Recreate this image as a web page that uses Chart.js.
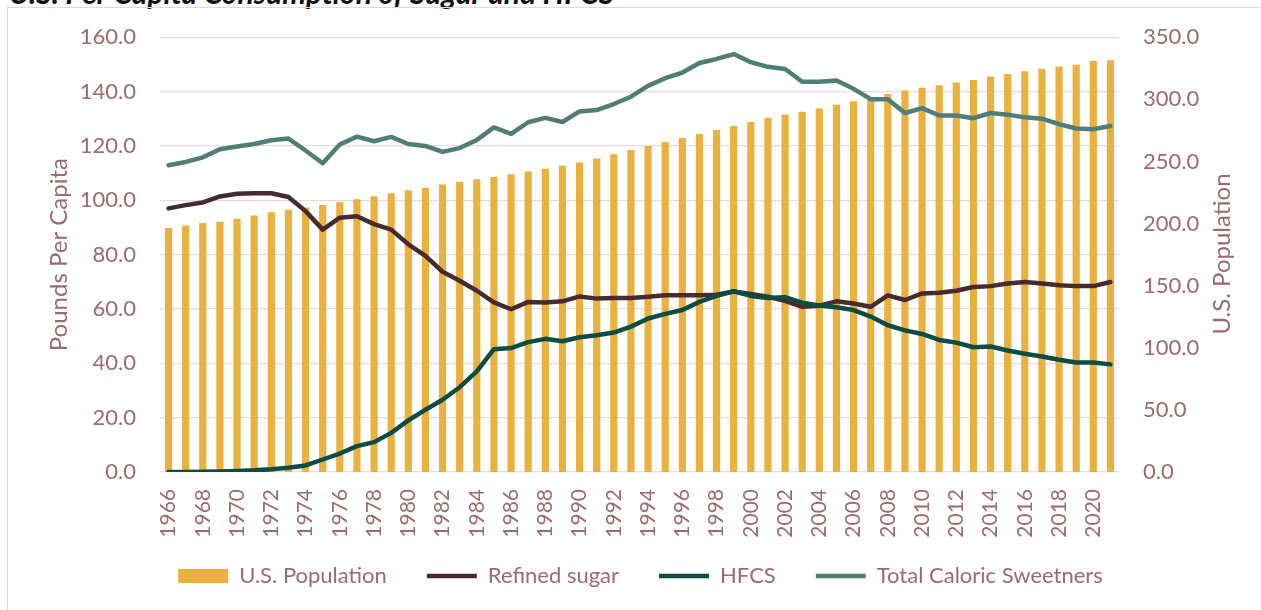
<!DOCTYPE html>
<html>
<head>
<meta charset="utf-8">
<script src="https://cdn.jsdelivr.net/npm/chart.js@4.4.1/dist/chart.umd.min.js"></script>
<style>
  html, body { margin: 0; padding: 0; background: #ffffff; }
  body { width: 1261px; height: 610px; position: relative; overflow: hidden; }
  #title { position: absolute; left: 9px; top: -23px; line-height: 30px; font-family: Lato, "Liberation Sans", sans-serif;
           font-weight: bold; font-style: italic; font-size: 30px; color: #111; white-space: nowrap; }
  #frame { position: absolute; left: 7px; top: 7px; width: 1300px; height: 700px;
           border: 1px solid #E6D6D9; box-sizing: border-box; }
  #wrap { position: absolute; left: 0; top: 0; width: 1261px; height: 610px; }
</style>
</head>
<body>
<div id="title">U.S. Per Capita Consumption of Sugar and HFCS</div>
<div id="frame"></div>
<div id="wrap"><canvas id="c" width="1261" height="610"></canvas></div>
<script>
const years = [];
for (let y = 1966; y <= 2021; y++) years.push(String(y));

const population = [196.4, 198.4, 200.5, 201.5, 203.8, 206.5, 209.0, 211.2, 213.0, 215.0,
  217.2, 219.6, 221.9, 224.3, 226.7, 228.9, 231.5, 233.6, 235.6, 237.5,
  239.6, 241.8, 244.2, 246.5, 249.2, 252.3, 255.8, 259.3, 262.5, 265.7,
  268.9, 272.1, 275.3, 278.5, 281.7, 284.9, 287.8, 290.0, 292.7, 295.7,
  298.4, 300.9, 304.2, 307.1, 309.3, 311.4, 313.6, 315.6, 318.4, 320.4,
  322.5, 324.6, 326.4, 327.9, 330.9, 331.5];

const refinedSugar = [97.0, 98.2, 99.2, 101.4, 102.4, 102.6, 102.6, 101.2, 96.0, 89.2,
  93.6, 94.1, 91.2, 89.2, 83.8, 79.5, 73.7, 70.4, 66.7, 62.4,
  59.9, 62.6, 62.4, 62.8, 64.6, 63.8, 64.0, 64.0, 64.5, 65.0,
  65.0, 65.0, 65.2, 66.4, 65.5, 64.5, 63.0, 60.8, 61.2, 62.8,
  62.0, 60.8, 65.0, 63.3, 65.7, 66.0, 66.7, 68.1, 68.4, 69.4,
  69.9, 69.4, 68.7, 68.4, 68.4, 69.9];

const hfcs = [0.0, 0.0, 0.1, 0.2, 0.4, 0.6, 1.0, 1.6, 2.4, 4.6,
  6.8, 9.5, 11.0, 14.4, 19.0, 22.9, 26.6, 31.2, 37.0, 45.2,
  45.6, 47.8, 49.0, 48.1, 49.6, 50.3, 51.3, 53.5, 56.5, 58.2,
  59.6, 62.6, 64.8, 66.5, 64.8, 64.0, 64.3, 62.3, 61.3, 60.6,
  59.6, 57.2, 54.0, 52.1, 50.8, 48.6, 47.6, 45.9, 46.2, 44.7,
  43.5, 42.5, 41.3, 40.3, 40.3, 39.6];

const totalCaloric = [112.9, 114.1, 115.8, 118.8, 119.8, 120.7, 122.1, 122.7, 118.3, 113.6,
  120.5, 123.4, 121.7, 123.3, 120.7, 120.0, 117.8, 119.2, 122.2, 126.8,
  124.4, 128.7, 130.3, 128.8, 132.7, 133.2, 135.4, 138.1, 142.1, 144.9,
  147.0, 150.5, 152.0, 153.8, 150.8, 149.1, 148.3, 143.6, 143.6, 144.1,
  141.0, 137.2, 137.2, 132.1, 133.9, 131.2, 131.2, 130.2, 132.1, 131.5,
  130.5, 130.0, 128.0, 126.4, 126.1, 127.3];

const leftTicks = [0, 20, 40, 60, 80, 100, 120, 140, 160];
const rightTicks = [0, 50, 100, 150, 200, 250, 300, 350];

const TXT = '#9C6A6F';
const FONT = 'Lato, "Open Sans", sans-serif';

const PAD = { left: 40, right: 20, top: 34, bottom: 0 };
const AREA = { left: 160, right: 1119, bottom: 472 };
const X_H = 66;
const LEGEND_H = 610 - AREA.bottom - X_H;
const LEGEND_SHIFT = 13;

const layoutPlugin = {
  id: 'fixLegend',
  beforeLayout(chart) {
    const lg = chart.legend;
    if (lg && !lg._fixed) {
      const f = lg.fit;
      lg.fit = function () { f.call(this); this.height = LEGEND_H; };
      lg._fixed = true;
    }
  },
  afterLayout(chart) {
    const lg = chart.legend;
    if (lg) { lg.top -= LEGEND_SHIFT; lg.bottom -= LEGEND_SHIFT; }
  }
};

const rightTitlePlugin = {
  id: 'rightTitle',
  afterDraw(chart) {
    const ctx = chart.ctx;
    ctx.save();
    ctx.font = '24px ' + FONT;
    ctx.fillStyle = TXT;
    ctx.textAlign = 'center';
    ctx.textBaseline = 'middle';
    ctx.translate(1222, 254);
    ctx.rotate(-Math.PI / 2);
    ctx.fillText('U.S. Population', 0, 0);
    ctx.restore();
  }
};

new Chart(document.getElementById('c'), {
  type: 'bar',
  data: {
    labels: years,
    datasets: [
      { type: 'bar', label: 'U.S. Population', data: population, yAxisID: 'yR',
        backgroundColor: '#EBB13E', borderWidth: 0, order: 5, pointStyle: 'rect',
        categoryPercentage: 1.0, barPercentage: 0.42 },
      { type: 'line', label: 'Refined sugar', data: refinedSugar, yAxisID: 'yL',
        borderColor: '#472B2F', backgroundColor: '#472B2F', borderWidth: 4.5, pointRadius: 0,
        tension: 0, order: 1, pointStyle: 'line', borderCapStyle: 'round', borderJoinStyle: 'round' },
      { type: 'line', label: 'HFCS', data: hfcs, yAxisID: 'yL',
        borderColor: '#0D4B45', backgroundColor: '#0D4B45', borderWidth: 4.5, pointRadius: 0,
        tension: 0, order: 0, pointStyle: 'line', borderCapStyle: 'round', borderJoinStyle: 'round' },
      { type: 'line', label: 'Total Caloric Sweetners', data: totalCaloric, yAxisID: 'yL',
        borderColor: '#4F7E79', backgroundColor: '#4F7E79', borderWidth: 4.5, pointRadius: 0,
        tension: 0, order: 2, pointStyle: 'line', borderCapStyle: 'round', borderJoinStyle: 'round' }
    ]
  },
  options: {
    responsive: false,
    animation: false,
    events: [],
    layout: { padding: PAD },
    plugins: {
      tooltip: { enabled: false },
      legend: {
        position: 'bottom',
        labels: {
          sort: (a, b) => a.datasetIndex - b.datasetIndex,
          usePointStyle: true, pointStyleWidth: 50, boxHeight: 14,
          color: TXT, font: { family: FONT, size: 22 }, padding: 40
        }
      }
    },
    scales: {
      x: {
        offset: true,
        grid: { display: false, drawTicks: false },
        border: { display: false },
        afterFit: (s) => { s.height = X_H; },
        ticks: {
          autoSkip: false, minRotation: 90, maxRotation: 90, padding: 17,
          color: TXT, font: { family: FONT, size: 21 },
          callback: function (v, i) { return i % 2 === 0 ? this.getLabelForValue(v) : ''; }
        }
      },
      yL: {
        position: 'left', min: 0, max: 160,
        afterBuildTicks: (s) => { s.ticks = leftTicks.map(v => ({ value: v })); },
        afterFit: (s) => { s.width = AREA.left - PAD.left; },
        grid: { color: '#E9DADD', lineWidth: 1.2, drawTicks: false },
        border: { display: false },
        ticks: { color: TXT, font: { family: FONT, size: 22 }, padding: 24,
                 callback: (v) => Number(v).toFixed(1) },
        title: { display: true, text: 'Pounds Per Capita', color: TXT,
                 font: { family: FONT, size: 24 }, padding: { top: 5, bottom: 0 } }
      },
      yR: {
        position: 'right', min: 0, max: 350,
        afterBuildTicks: (s) => { s.ticks = rightTicks.map(v => ({ value: v })); },
        afterFit: (s) => { s.width = 1261 - AREA.right - PAD.right; },
        grid: { display: false, drawTicks: false },
        border: { display: false },
        ticks: { color: TXT, font: { family: FONT, size: 22 }, padding: 24,
                 callback: (v) => Number(v).toFixed(1) }
      }
    }
  },
  plugins: [layoutPlugin, rightTitlePlugin]
});
</script>
</body>
</html>
